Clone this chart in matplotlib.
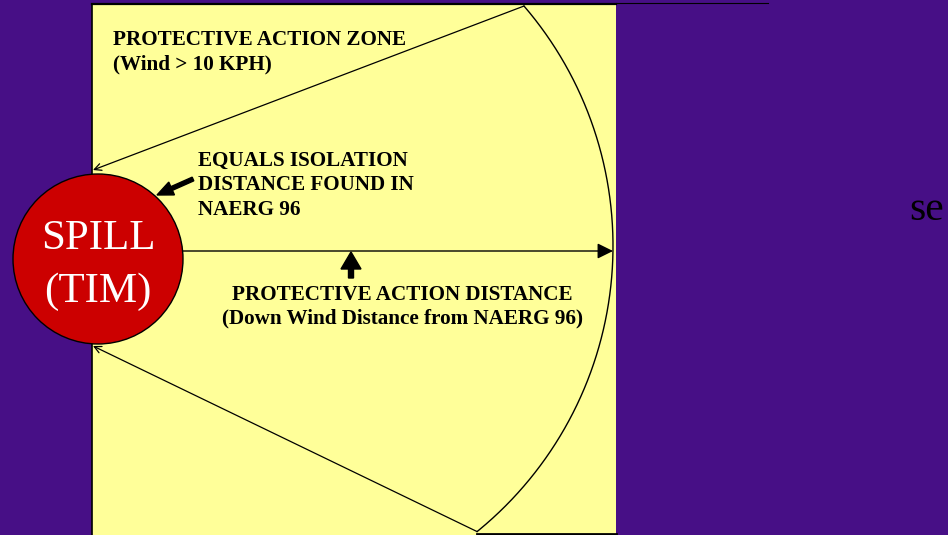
import matplotlib.pyplot as plt
from matplotlib.patches import Rectangle, Circle, FancyArrowPatch
import numpy as np

# canvas is laid out in pixels (948 x 535), y grows downwards
W, H = 948, 535

zone_title = ["PROTECTIVE ACTION ZONE", "(Wind > 10 KPH)"]
isolation_text = ["EQUALS ISOLATION", "DISTANCE FOUND IN", "NAERG 96"]
distance_text = ["PROTECTIVE ACTION DISTANCE", "(Down Wind Distance from NAERG 96)"]
spill_text = ["SPILL", "(TIM)"]
side_text = "se"

# geometry of the sketch
panel = (92, 4, 616, 535)            # left, top, right, bottom of yellow panel
spill_center = (98, 259)
spill_radius = 85
arc_center = (245, 246)
arc_radius = 368
arc_angles = (-40.7, 50.9)           # degrees, start/end of the downwind arc

purple = "#470f86"
yellow = "#ffff99"
red = "#cc0000"

fig = plt.figure(figsize=(9.48, 5.35), dpi=100, facecolor=purple)
ax = fig.add_axes([0, 0, 1, 1])
ax.set_xlim(0, W)
ax.set_ylim(H, 0)
ax.set_facecolor(purple)
ax.axis('off')

# yellow panel with borders
l, t, r, b = panel
ax.add_patch(Rectangle((l, t), r - l, b - t, facecolor=yellow, edgecolor='none', zorder=1))
ax.plot([l, r], [t - 0.5, t - 0.5], color='black', lw=1.6, zorder=2)
ax.plot([r, 768], [3, 3], color='black', lw=0.8, zorder=2)
ax.plot([l + 0.5, l + 0.5], [t, b], color='black', lw=1.2, zorder=2)

# downwind arc
th = np.radians(np.linspace(arc_angles[0], arc_angles[1], 200))
ax_x = arc_center[0] + arc_radius * np.cos(th)
ax_y = arc_center[1] + arc_radius * np.sin(th)
ax.plot(ax_x, ax_y, color='black', lw=1.0, zorder=3)
top_pt = (ax_x[0], ax_y[0])
bot_pt = (ax_x[-1], ax_y[-1])
ax.plot([bot_pt[0], r], [533.5, 533.5], color='black', lw=2.0, zorder=3)

# zone edge lines with small heads at the spill
for start, end in [(top_pt, (93, 170)), (bot_pt, (93, 346))]:
    ax.add_patch(FancyArrowPatch(start, end, arrowstyle='->,head_length=0.5,head_width=0.25',
                                 mutation_scale=10, color='black', lw=0.9,
                                 shrinkA=0, shrinkB=0, zorder=3))

# downwind distance arrow
ax.add_patch(FancyArrowPatch((spill_center[0] + spill_radius, 251), (arc_center[0] + arc_radius, 251),
                             arrowstyle='-|>,head_length=0.95,head_width=0.47',
                             mutation_scale=10, color='black', lw=1.0,
                             shrinkA=0, shrinkB=0, zorder=3))

# spill circle
ax.add_patch(Circle(spill_center, spill_radius, facecolor=red, edgecolor='black', lw=1.0, zorder=4))
ax.text(spill_center[0], 249, spill_text[0], color='white', fontsize=31,
        family='Liberation Serif', ha='center', va='baseline', zorder=5)
ax.text(spill_center[0], 302, spill_text[1], color='white', fontsize=31,
        family='Liberation Serif', ha='center', va='baseline', zorder=5)

# bold pointer arrows
ax.arrow(193, 179, -36, 16, width=4, head_width=14, head_length=16,
         length_includes_head=True, color='black', zorder=5)
ax.arrow(351, 278, 0, -26, width=5, head_width=20, head_length=17,
         length_includes_head=True, color='black', zorder=5)

lab = dict(fontsize=15.2, family='Liberation Serif', fontweight='bold', color='black',
           va='baseline', zorder=5)
for s, y in zip(zone_title, [45, 69]):
    ax.text(113, y, s, ha='left', **lab)
for s, y in zip(isolation_text, [166, 190, 215]):
    ax.text(198, y, s, ha='left', **lab)
for s, y in zip(distance_text, [300, 323]):
    ax.text(402.5, y, s, ha='center', **lab)

ax.text(909, 220, side_text, fontsize=30, family='Liberation Serif', color='black',
        ha='left', va='baseline', zorder=5)

fig.savefig('out.png', dpi=100, facecolor=purple)
